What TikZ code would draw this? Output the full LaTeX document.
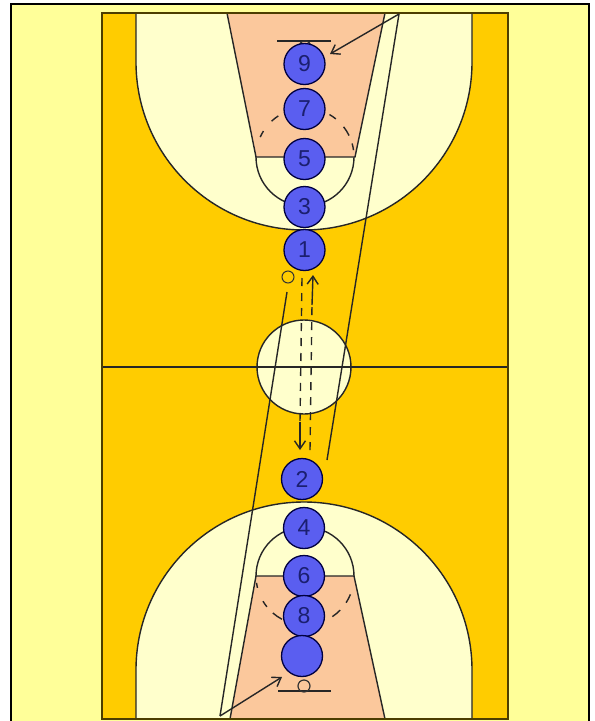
\documentclass[tikz,border=0pt]{standalone}
\usepackage{fontspec}
\setmainfont{Liberation Sans}
\usetikzlibrary{arrows.meta}

\definecolor{pagecol}{HTML}{FFFF99}
\definecolor{courtcol}{HTML}{FFCC00}
\definecolor{lanecol}{HTML}{FFFFCC}
\definecolor{keycol}{HTML}{FBC89C}
\definecolor{playercol}{HTML}{5A5EF0}
\definecolor{numcol}{HTML}{1B1F70}

\tikzset{
    player/.style={circle, draw=black!75!blue, line width=1.3pt, fill=playercol, minimum size=41pt, inner sep=0pt,
        text=numcol, font=\fontsize{23}{23}\selectfont},
    rim/.style={circle, draw=black!80, line width=1.2pt, minimum size=12pt, inner sep=0pt},
    courtline/.style={draw=black!85, line width=1.4pt},
    run/.style={courtline, dash pattern=on 8pt off 7pt},
    move/.style={courtline, -{Straight Barb[length=8pt,width=11pt]}}
}

\begin{document}
\begin{tikzpicture}[x=1pt, y=-1pt]
        \useasboundingbox (0,0) rectangle (595,721);
        \draw[black, line width=1.3pt, fill=pagecol] (11,4) rectangle (589,723);
        \fill[courtcol] (102,13) rectangle (508,719);

        % top half
        \fill[lanecol] (136,13) -- (136,62) arc (180:0:168) -- (472,13) -- cycle;
        \draw[courtline] (136,13) -- (136,62) arc (180:0:168) -- (472,13);
        \draw[courtline] (256,157) arc (180:0:49);
        \fill[keycol] (227,13) -- (256,157) -- (355,157) -- (385,13) -- cycle;
        \draw[courtline] (227,13) -- (256,157) -- (355,157) -- (385,13);
        \draw[courtline] (277,41) -- (331,41);
        \foreach \a/\b in {204/212,227/237,300/309,322/334,344/352}
            \draw[courtline] (305,157) ++(\a:49) arc (\a:\b:49);

        % bottom half
        \fill[lanecol] (136,719) -- (136,670) arc (180:360:168) -- (472,719) -- cycle;
        \draw[courtline] (136,719) -- (136,670) arc (180:360:168) -- (472,719);
        \draw[courtline] (256,576) arc (180:360:49);
        \fill[keycol] (230,719) -- (256,576) -- (354,576) -- (385,719) -- cycle;
        \draw[courtline] (230,719) -- (256,576) -- (354,576) -- (385,719);
        \draw[courtline] (278,691) -- (331,691);
        \foreach \a/\b in {166/172,141/149,118/131,44/56,22/33}
            \draw[courtline] (305,576) ++(\a:49) arc (\a:\b:49);

        % centre
        \draw[courtline, fill=lanecol] (304,367) circle (47);
        \draw[courtline] (102,367) -- (508,367);

        % court outline
        \draw[black!70!courtcol, line width=1.7pt] (102,13) rectangle (508,719);

        \node[rim] (rimTop) at (305,47) {};
        \node[rim] (rimBottom) at (304,686) {};
        \node[rim, line width=1pt] (ball) at (288,277) {};

        \node[player] (p9) at (304.5,64) {9};
        \node[player] (p7) at (304.5,109) {7};
        \node[player] (p5) at (304.5,159) {5};
        \node[player] (p3) at (304.5,207) {3};
        \node[player] (p1) at (304.5,250) {1};
        \node[player] (p2) at (302,479) {2};
        \node[player] (p4) at (304,528) {4};
        \node[player] (p6) at (304,576) {6};
        \node[player] (p8) at (304,616) {8};
        \node[player] (p10) at (302,656) {};

        % long passes
        \coordinate (cornerTop) at (399,14);
        \coordinate (cornerBottom) at (220,716);
        \draw[courtline] (cornerTop) -- (327,460);
        \draw[courtline] (cornerBottom) -- (287,292);
        \draw[move] (cornerTop) -- (330,54);
        \draw[move] (cornerBottom) -- (282,677);

        % runs through the centre
        \coordinate (leftBreak) at (300,422);
        \coordinate (rightBreak) at (312,305);
        \draw[run] (302,278) -- (leftBreak);
        \draw[move] (leftBreak) -- (300,450);
        \draw[run] (310,450) -- (rightBreak);
        \draw[move] (rightBreak) -- (313,275);

    \end{tikzpicture}
\end{document}
